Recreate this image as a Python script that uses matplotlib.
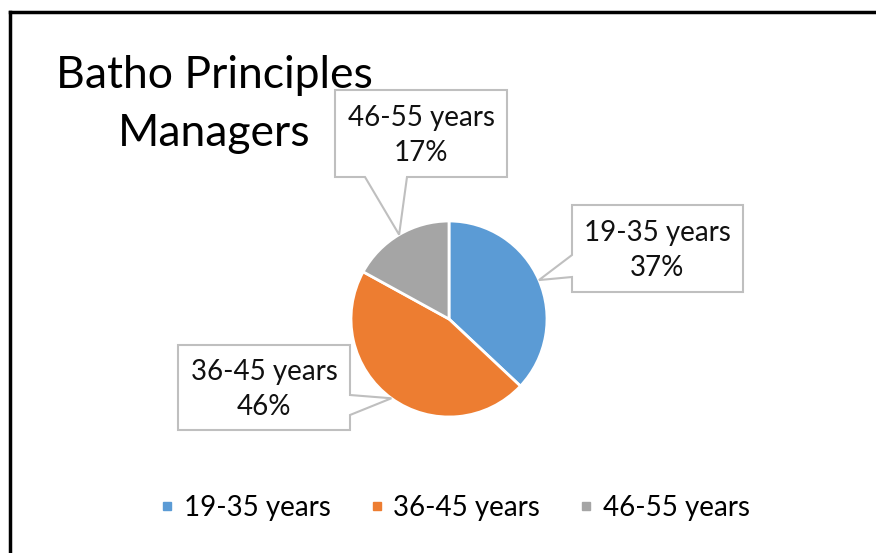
import matplotlib.pyplot as plt
from matplotlib.patches import Polygon
from matplotlib.lines import Line2D
import numpy as np

plt.rcParams['font.family'] = ['Lato', 'DejaVu Sans']

labels = ['19-35 years', '36-45 years', '46-55 years']
shares = [37, 46, 17]
colors = ['#5B9BD5', '#ED7D31', '#A5A5A5']
title_lines = ['Batho Principles', 'Managers']

# callout boxes in pixel coords: left, top, right, bottom, tail side, tail base
boxes = [
    (572, 205, 743, 292, 'left', (255, 277)),
    (178, 345, 350, 430, 'right', (395, 415)),
    (335, 90, 507, 177, 'bottom', (365, 407)),
]

W, H = 876, 553
fig = plt.figure(figsize=(W / 100, H / 100), dpi=100)
ax = fig.add_axes([0, 0, 1, 1])

cx, cy, r = 449, 319, 98
# y axis runs downwards, so counterclock in data = clockwise on screen
wedges, _ = ax.pie(shares, colors=colors, startangle=-90, counterclock=True,
                   center=(cx, cy), radius=r,
                   wedgeprops=dict(edgecolor='white', linewidth=2))
ax.set_xlim(0, W)
ax.set_ylim(H, 0)
ax.set_aspect('equal')
ax.axis('off')

for w, lab, val, (l, t, rr, b, side, base) in zip(wedges, labels, shares, boxes):
    mid = np.deg2rad((w.theta1 + w.theta2) / 2)
    tip = (cx + r * np.cos(mid), cy + r * np.sin(mid))
    if side == 'left':
        pts = [(l, t), (rr, t), (rr, b), (l, b), (l, base[1]), tip, (l, base[0])]
    elif side == 'right':
        pts = [(l, t), (rr, t), (rr, base[0]), tip, (rr, base[1]), (rr, b), (l, b)]
    else:
        pts = [(l, t), (rr, t), (rr, b), (base[1], b), tip, (base[0], b), (l, b)]
    ax.add_patch(Polygon(pts, closed=True, facecolor='white', edgecolor='#BFBFBF',
                         linewidth=1.5, zorder=3))
    ax.text((l + rr) / 2, (t + b) / 2 + 2, f'{lab}\n{val}%', ha='center', va='center',
            fontsize=20, linespacing=1.45, color='#111111', zorder=4)

# title, one text per line
for i, line in enumerate(title_lines):
    ax.text(214, 76 + i * 57, line, ha='center', va='center', fontsize=32, color='black')

handles = [Line2D([], [], marker='s', linestyle='', markersize=6,
                  markerfacecolor=c, markeredgecolor=c) for c in colors]
fig.legend(handles, labels, loc='center', bbox_to_anchor=(455 / W, 1 - 508 / H),
           ncol=3, frameon=False, fontsize=20, handletextpad=0.35,
           columnspacing=1.4, handlelength=0.5)

# chart frame (only left and top visible in the crop)
fig.add_artist(Line2D([10 / W, 10 / W], [0, 1 - 12 / H], color='black', linewidth=2.5))
fig.add_artist(Line2D([10 / W, 1], [1 - 12 / H, 1 - 12 / H], color='black', linewidth=2.5))

fig.savefig('out.png', dpi=100)
